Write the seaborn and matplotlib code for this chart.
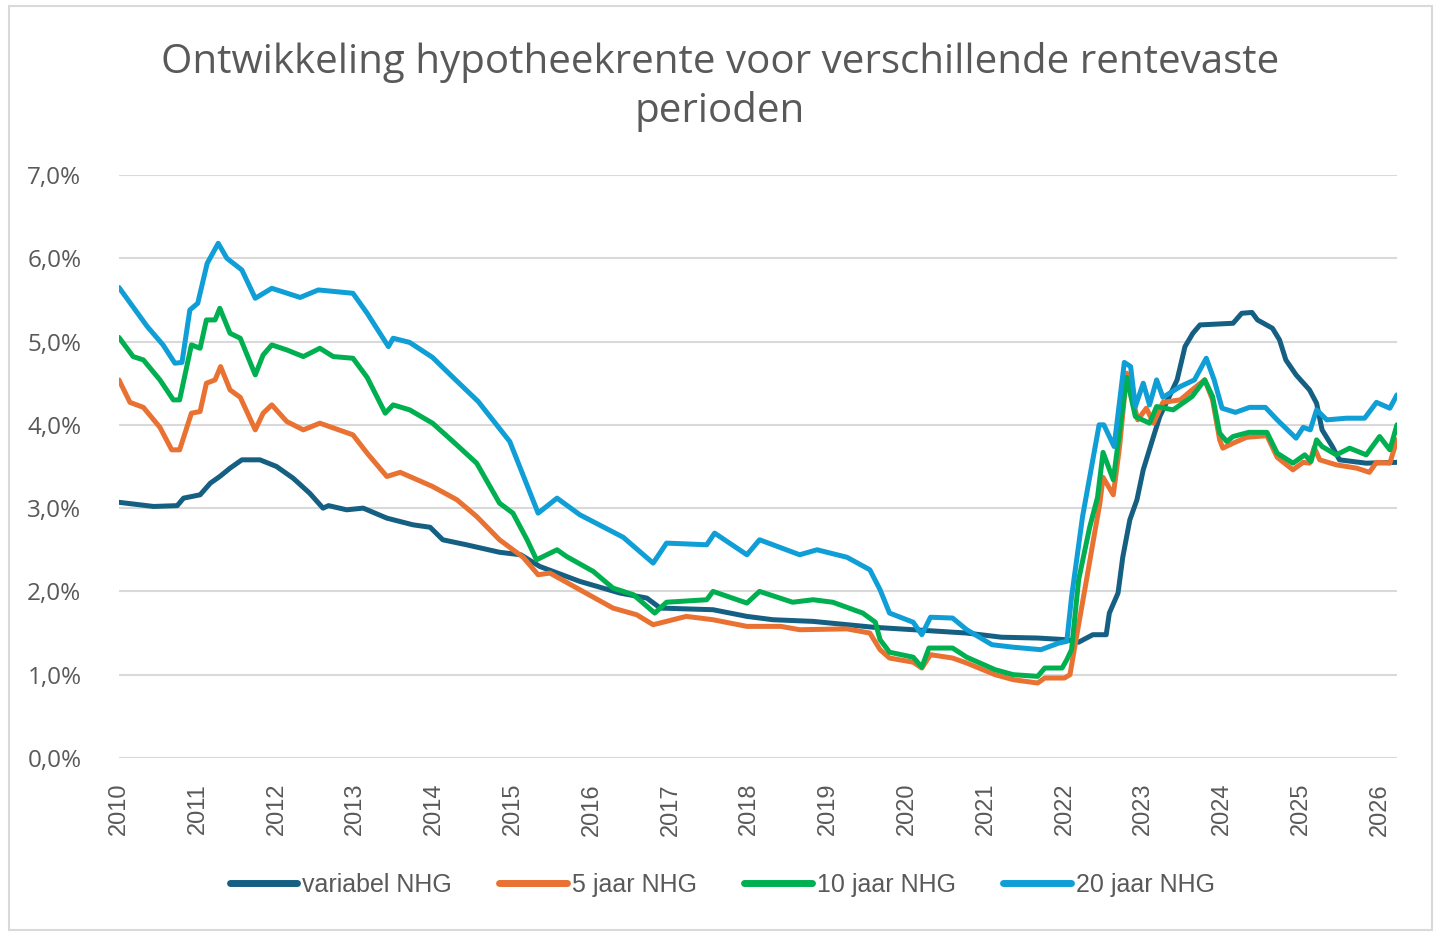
import matplotlib
matplotlib.use('Agg')
import matplotlib.pyplot as plt
import matplotlib.patches as mpatches
from matplotlib.ticker import FuncFormatter
import pandas as pd
import seaborn as sns

# (decimal year, rate in %)
var_x = [2010.00, 2010.44, 2010.74, 2010.82, 2011.03, 2011.16, 2011.28, 2011.41, 2011.56, 2011.79,
         2012.00, 2012.21, 2012.42, 2012.59, 2012.66, 2012.89, 2013.10, 2013.40, 2013.73, 2013.95,
         2014.11, 2014.41, 2014.83, 2015.10, 2015.34, 2015.85, 2016.36, 2016.70, 2016.87, 2017.54,
         2017.97, 2018.30, 2018.81, 2019.57, 2020.08, 2020.76, 2021.20, 2021.66, 2022.03, 2022.18,
         2022.36, 2022.53, 2022.57, 2022.68, 2022.74, 2022.83, 2022.92, 2023.00, 2023.13, 2023.21,
         2023.43, 2023.53, 2023.63, 2023.72, 2024.14, 2024.25, 2024.38, 2024.45, 2024.64, 2024.73,
         2024.81, 2024.94, 2025.11, 2025.20, 2025.27, 2025.40, 2025.49, 2025.83, 2026.22]
var_y = [3.07, 3.02, 3.03, 3.12, 3.16, 3.30, 3.38, 3.48, 3.58, 3.58,
         3.50, 3.36, 3.18, 3.00, 3.03, 2.98, 3.00, 2.88, 2.80, 2.77,
         2.62, 2.56, 2.47, 2.44, 2.30, 2.12, 1.98, 1.92, 1.80, 1.78,
         1.70, 1.66, 1.64, 1.57, 1.54, 1.50, 1.45, 1.44, 1.42, 1.39,
         1.48, 1.48, 1.74, 1.98, 2.41, 2.86, 3.10, 3.46, 3.86, 4.10,
         4.54, 4.94, 5.10, 5.20, 5.22, 5.34, 5.35, 5.26, 5.16, 5.02,
         4.78, 4.60, 4.42, 4.26, 3.94, 3.74, 3.58, 3.54, 3.55]

j5_x = [2010.00, 2010.14, 2010.31, 2010.52, 2010.67, 2010.77, 2010.92, 2011.03, 2011.11, 2011.22,
        2011.29, 2011.41, 2011.54, 2011.73, 2011.83, 2011.94, 2012.13, 2012.34, 2012.55, 2012.97,
        2013.15, 2013.40, 2013.57, 2013.98, 2014.29, 2014.54, 2014.83, 2015.13, 2015.32, 2015.47,
        2015.85, 2016.27, 2016.57, 2016.78, 2017.20, 2017.54, 2017.97, 2018.40, 2018.64, 2019.24,
        2019.53, 2019.66, 2019.78, 2020.08, 2020.19, 2020.30, 2020.58, 2020.76, 2021.12, 2021.35,
        2021.66, 2021.75, 2022.00, 2022.07, 2022.13, 2022.28, 2022.39, 2022.45, 2022.49, 2022.62,
        2022.70, 2022.79, 2022.93, 2023.04, 2023.13, 2023.25, 2023.47, 2023.62, 2023.78, 2023.88,
        2023.97, 2024.01, 2024.14, 2024.31, 2024.57, 2024.70, 2024.90, 2025.03, 2025.11, 2025.17,
        2025.24, 2025.45, 2025.71, 2025.87, 2025.96, 2026.13, 2026.22]
j5_y = [4.54, 4.27, 4.21, 3.97, 3.70, 3.70, 4.14, 4.16, 4.50, 4.54,
        4.70, 4.42, 4.33, 3.94, 4.14, 4.24, 4.04, 3.94, 4.02, 3.88,
        3.66, 3.38, 3.43, 3.26, 3.10, 2.90, 2.62, 2.41, 2.20, 2.22,
        2.02, 1.80, 1.72, 1.60, 1.70, 1.66, 1.58, 1.58, 1.54, 1.55,
        1.50, 1.30, 1.20, 1.15, 1.08, 1.24, 1.20, 1.14, 1.00, 0.94,
        0.90, 0.96, 0.96, 1.00, 1.33, 2.14, 2.74, 3.06, 3.37, 3.16,
        3.74, 4.62, 4.06, 4.20, 4.02, 4.27, 4.30, 4.42, 4.54, 4.30,
        3.82, 3.72, 3.78, 3.85, 3.87, 3.61, 3.46, 3.55, 3.54, 3.73,
        3.58, 3.52, 3.48, 3.43, 3.55, 3.54, 3.82]

j10_x = [2010.00, 2010.18, 2010.31, 2010.52, 2010.69, 2010.77, 2010.92, 2011.03, 2011.11, 2011.22,
         2011.28, 2011.41, 2011.54, 2011.73, 2011.83, 2011.94, 2012.13, 2012.34, 2012.55, 2012.72,
         2012.97, 2013.15, 2013.38, 2013.48, 2013.69, 2013.98, 2014.24, 2014.54, 2014.83, 2015.00,
         2015.18, 2015.30, 2015.56, 2015.68, 2016.02, 2016.27, 2016.53, 2016.80, 2016.95, 2017.46,
         2017.54, 2017.97, 2018.13, 2018.55, 2018.81, 2019.06, 2019.44, 2019.60, 2019.66, 2019.78,
         2020.08, 2020.19, 2020.28, 2020.58, 2020.76, 2021.12, 2021.35, 2021.66, 2021.75, 2021.97,
         2022.03, 2022.09, 2022.18, 2022.32, 2022.42, 2022.49, 2022.62, 2022.79, 2022.90, 2023.08,
         2023.17, 2023.38, 2023.62, 2023.78, 2023.88, 2023.97, 2024.06, 2024.14, 2024.34, 2024.57,
         2024.70, 2024.90, 2025.05, 2025.13, 2025.20, 2025.27, 2025.45, 2025.62, 2025.83, 2026.00,
         2026.13, 2026.22]
j10_y = [5.05, 4.82, 4.78, 4.54, 4.30, 4.30, 4.96, 4.92, 5.26, 5.26,
         5.40, 5.10, 5.04, 4.60, 4.84, 4.96, 4.90, 4.82, 4.92, 4.82,
         4.80, 4.57, 4.14, 4.24, 4.18, 4.02, 3.80, 3.54, 3.06, 2.94,
         2.62, 2.38, 2.50, 2.42, 2.24, 2.04, 1.96, 1.74, 1.87, 1.90,
         2.00, 1.86, 2.00, 1.87, 1.90, 1.87, 1.74, 1.63, 1.42, 1.27,
         1.21, 1.09, 1.32, 1.32, 1.21, 1.06, 1.00, 0.98, 1.08, 1.08,
         1.18, 1.30, 2.14, 2.77, 3.13, 3.67, 3.34, 4.57, 4.10, 4.02,
         4.22, 4.18, 4.34, 4.54, 4.34, 3.90, 3.80, 3.86, 3.91, 3.91,
         3.66, 3.54, 3.64, 3.56, 3.82, 3.74, 3.64, 3.72, 3.64, 3.86,
         3.70, 4.00]

j20_x = [2010.00, 2010.36, 2010.56, 2010.71, 2010.80, 2010.90, 2011.00, 2011.12, 2011.26, 2011.37,
         2011.56, 2011.73, 2011.94, 2012.30, 2012.53, 2012.97, 2013.15, 2013.42, 2013.48, 2013.69,
         2013.98, 2014.24, 2014.56, 2014.96, 2015.32, 2015.56, 2015.85, 2016.40, 2016.78, 2016.95,
         2017.46, 2017.56, 2017.97, 2018.13, 2018.64, 2018.86, 2019.24, 2019.53, 2019.66, 2019.78,
         2020.08, 2020.19, 2020.30, 2020.58, 2020.76, 2021.08, 2021.35, 2021.70, 2021.93, 2022.03,
         2022.09, 2022.23, 2022.32, 2022.44, 2022.50, 2022.63, 2022.76, 2022.84, 2022.90, 2023.00,
         2023.08, 2023.17, 2023.25, 2023.47, 2023.65, 2023.80, 2023.90, 2024.00, 2024.17, 2024.35,
         2024.55, 2024.70, 2024.94, 2025.03, 2025.12, 2025.20, 2025.33, 2025.58, 2025.81, 2025.96,
         2026.13, 2026.22]
j20_y = [5.65, 5.18, 4.96, 4.74, 4.75, 5.38, 5.46, 5.94, 6.18, 6.00,
         5.86, 5.52, 5.64, 5.53, 5.62, 5.58, 5.34, 4.94, 5.04, 4.99,
         4.81, 4.57, 4.28, 3.80, 2.94, 3.12, 2.92, 2.65, 2.34, 2.58,
         2.56, 2.70, 2.44, 2.62, 2.44, 2.50, 2.41, 2.26, 2.02, 1.74,
         1.63, 1.48, 1.69, 1.68, 1.54, 1.36, 1.33, 1.30, 1.38, 1.40,
         1.93, 2.90, 3.37, 4.00, 4.00, 3.74, 4.75, 4.70, 4.22, 4.50,
         4.24, 4.54, 4.33, 4.46, 4.54, 4.80, 4.54, 4.20, 4.15, 4.21,
         4.21, 4.06, 3.84, 3.97, 3.94, 4.18, 4.06, 4.08, 4.08, 4.27,
         4.20, 4.36]

series_names = ['variabel NHG', '5 jaar NHG', '10 jaar NHG', '20 jaar NHG']
series_colors = ['#156082', '#E97132', '#00B050', '#0F9ED5']
years = list(range(2010, 2027))
y_ticks = [0, 1, 2, 3, 4, 5, 6, 7]

frames = []
for name, xs, ys in zip(series_names, [var_x, j5_x, j10_x, j20_x], [var_y, j5_y, j10_y, j20_y]):
    frames.append(pd.DataFrame({'jaar': xs, 'rente': ys, 'type': name}))
df = pd.concat(frames, ignore_index=True)

sns.set_style('white')
plt.rcParams['font.family'] = ['Open Sans', 'DejaVu Sans']

fig = plt.figure(figsize=(14.4, 9.39), dpi=100)
ax = fig.add_axes([0.0826, 0.1928, 0.8875, 0.6208])

sns.lineplot(data=df, x='jaar', y='rente', hue='type', hue_order=series_names,
             palette=series_colors, linewidth=3.6, estimator=None, sort=False, ax=ax)

ax.set_xlim(2010, 2026.22)
ax.set_ylim(0, 7)
ax.set_yticks(y_ticks)
ax.yaxis.set_major_formatter(FuncFormatter(lambda v, p: f'{v:.1f}%'.replace('.', ',')))
ax.set_xticks(years)
ax.set_xticklabels([str(y) for y in years], rotation=90, family='Liberation Sans')
ax.tick_params(axis='x', labelsize=17, colors='#595959', length=0, pad=18)
ax.tick_params(axis='y', labelsize=17.5, colors='#595959', length=0, pad=27)
ax.grid(axis='y', color='#D9D9D9', linewidth=1.5)
ax.set_axisbelow(True)
for s in ax.spines.values():
    s.set_visible(False)
ax.set_xlabel('')
ax.set_ylabel('')

fig.text(0.5, 1 - 122 / 939, 'Ontwikkeling hypotheekrente voor verschillende rentevaste\nperioden',
         ha='center', va='baseline', fontsize=29, color='#595959', linespacing=1.25,
         multialignment='center')

handles = [plt.Line2D([], [], color=c, linewidth=5, solid_capstyle='round') for c in series_colors]
ax.legend(handles, series_names, loc='upper center', bbox_to_anchor=(0.472, -0.158), ncol=4,
          frameon=False, handlelength=2.7, handletextpad=0.2, columnspacing=1.9,
          prop={'family': 'Liberation Sans', 'size': 18}, labelcolor='#595959')

fig.patches.append(mpatches.Rectangle((9 / 1440, 1 - 930 / 939), 1423 / 1440, 924 / 939,
                                      transform=fig.transFigure, fill=False,
                                      edgecolor='#D9D9D9', linewidth=1.5))

fig.savefig('out.png', dpi=100)
